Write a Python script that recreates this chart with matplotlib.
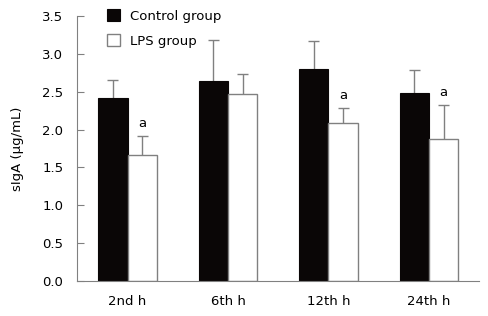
import numpy as np
import matplotlib.pyplot as plt

# values
times = ["2nd h", "6th h", "12th h", "24th h"]
control_mean = [2.42, 2.64, 2.80, 2.48]
control_sd = [0.24, 0.55, 0.37, 0.31]
lps_mean = [1.66, 2.47, 2.09, 1.88]
lps_sd = [0.25, 0.27, 0.19, 0.45]
lps_sig = ["a", "", "a", "a"]

grey = "#808080"
plt.rcParams["font.family"] = "DejaVu Sans"
plt.rcParams["font.size"] = 9.5

fig = plt.figure(figsize=(4.89, 3.16), dpi=100)
ax = fig.add_axes([0.158, 0.111, 0.822, 0.838])

x = np.arange(len(times))
w = 0.29
cap = 0.055


def upper_err(xs, means, sds):
    tops = np.array(means) + np.array(sds)
    ax.vlines(xs, means, tops, color=grey, linewidth=1, zorder=1)
    ax.hlines(tops, xs - cap, xs + cap, color=grey, linewidth=1, zorder=1)


upper_err(x - w / 2, control_mean, control_sd)
upper_err(x + w / 2, lps_mean, lps_sd)
ax.bar(x - w / 2, control_mean, w, color="#0a0606", edgecolor="#0a0606",
       linewidth=0.8, label="Control group", zorder=2)
ax.bar(x + w / 2, lps_mean, w, color="white", edgecolor=grey,
       linewidth=1, label="LPS group", zorder=2)

for i, s in enumerate(lps_sig):
    if s:
        ax.text(x[i] + w / 2, lps_mean[i] + lps_sd[i] + 0.08, s,
                ha="center", va="bottom", fontsize=9.5)

ax.set_xlim(-0.5, 3.5)
ax.set_ylim(0, 3.5)
ax.set_xticks(x)
ax.set_xticklabels(times)
ax.set_yticks(np.arange(0, 3.51, 0.5))
ax.set_yticklabels([f"{v:.1f}" for v in np.arange(0, 3.51, 0.5)])
ax.tick_params(axis="y", direction="in", length=5, color=grey, pad=10)
ax.tick_params(axis="x", length=0, pad=10)
ax.set_ylabel("sIgA (μg/mL)", labelpad=13)

for sp in ["top", "right"]:
    ax.spines[sp].set_visible(False)
for sp in ["left", "bottom"]:
    ax.spines[sp].set_color(grey)

ax.legend(loc="upper left", bbox_to_anchor=(0.045, 1.07), frameon=False,
          handlelength=1.0, handleheight=1.0, handletextpad=0.7,
          labelspacing=0.85, fontsize=9.5)

fig.savefig("out.png", dpi=100)
